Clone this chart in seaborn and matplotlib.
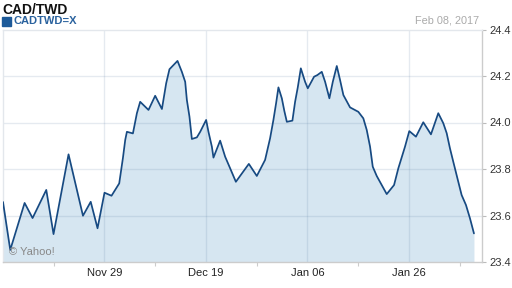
import matplotlib
matplotlib.use("Agg")
import matplotlib.pyplot as plt
import seaborn as sns
import pandas as pd

# trading-day index (0 = Nov 09, 2016) and CAD/TWD rate
day = [0.0, 1.0, 2.98, 4.08, 5.97, 6.97, 9.04, 11.03, 12.10, 13.04, 14.00, 14.97,
       16.03, 16.54, 16.86, 17.09, 17.92, 18.47, 18.92, 20.07, 20.99, 21.92, 22.51,
       22.96, 24.07, 24.67, 25.13, 25.36, 25.72, 26.05, 26.74, 27.20, 28.02, 28.34,
       28.81, 29.03, 29.95, 30.64, 31.33, 32.12, 33.91, 35.01, 36.15, 36.84, 37.30,
       37.67, 37.99, 38.46, 38.81, 39.15, 39.92, 40.29, 40.66, 41.08, 41.67, 42.04,
       42.91, 43.36, 43.97, 44.43, 45.02, 45.49, 46.04, 46.49, 46.95, 47.87, 49.01,
       49.70, 50.17, 50.63, 51.00, 51.55, 52.24, 52.93, 53.94, 54.53, 55.45, 56.04,
       56.96, 57.97, 59.03, 60.04, 60.73, 61.20, 61.65, 62.11, 62.80, 63.26, 63.86,
       64.41, 64.96]
rate = [23.658, 23.452, 23.654, 23.589, 23.710, 23.520, 23.863, 23.599, 23.659, 23.545,
        23.698, 23.685, 23.738, 23.847, 23.925, 23.960, 23.953, 24.040, 24.089, 24.054,
        24.115, 24.058, 24.169, 24.229, 24.265, 24.218, 24.175, 24.097, 24.025, 23.929,
        23.936, 23.960, 24.011, 23.960, 23.896, 23.849, 23.922, 23.853, 23.803, 23.745,
        23.822, 23.770, 23.839, 23.932, 24.011, 24.083, 24.151, 24.104, 24.049, 24.003,
        24.008, 24.089, 24.151, 24.233, 24.175, 24.147, 24.197, 24.204, 24.218, 24.175,
        24.104, 24.175, 24.243, 24.183, 24.118, 24.065, 24.046, 24.018, 23.968, 23.896,
        23.810, 23.770, 23.731, 23.692, 23.731, 23.803, 23.896, 23.963, 23.939, 24.001,
        23.949, 24.040, 23.997, 23.954, 23.889, 23.831, 23.745, 23.688, 23.645, 23.588,
        23.523]

x_major = [14, 28, 42, 56]
x_labels = ["Nov 29", "Dec 19", "Jan 06", "Jan 26"]
x_minor = [7, 21, 35, 49, 63]
y_ticks = [23.4, 23.6, 23.8, 24.0, 24.2, 24.4]

df = pd.DataFrame({"day": day, "rate": rate})

sns.set_style("white")
plt.rcParams["font.family"] = ["Liberation Sans", "DejaVu Sans"]

fig = plt.figure(figsize=(5.12, 2.88), dpi=100)
ax = fig.add_axes([3 / 512, 26 / 288, 479 / 512, 232.5 / 288])

line_c = "#174a82"
ax.fill_between(df["day"], df["rate"], 23.4, color="#d6e6f1", lw=0, zorder=1)
sns.lineplot(data=df, x="day", y="rate", ax=ax, color=line_c, lw=1.25, zorder=3)

ax.set_xlim(0, 66.07)
ax.set_ylim(23.4, 24.4)

ax.yaxis.tick_right()
ax.set_yticks(y_ticks)
ax.set_yticklabels([f"{v:.1f}" for v in y_ticks])
ax.set_xticks(x_major)
ax.set_xticklabels(x_labels)
ax.set_xticks(x_minor, minor=True)
ax.tick_params(axis="y", which="major", length=3, width=0.8, color="#bbbbbb",
               labelsize=8, labelcolor="#333333", pad=2, right=True, left=False)
ax.tick_params(axis="x", which="major", length=0, labelsize=8, labelcolor="#222222", pad=4)
ax.tick_params(axis="x", which="minor", length=3, width=0.8, color="#cccccc", bottom=True)
ax.set_xlabel("")
ax.set_ylabel("")

for v in y_ticks[1:-1]:
    ax.axhline(v, color="#5577a0", alpha=0.15, lw=1, zorder=2)
for v in x_major:
    ax.axvline(v, color="#5577a0", alpha=0.15, lw=1, zorder=2)

for s in ["left", "top"]:
    ax.spines[s].set_color("#e3e7ec")
    ax.spines[s].set_linewidth(1)
for s in ["right", "bottom"]:
    ax.spines[s].set_color("#cccccc")
    ax.spines[s].set_linewidth(1)
for s in ax.spines.values():
    s.set_visible(True)

fig.text(2 / 512, 1 - 3 / 288, "CAD/TWD", fontsize=10, fontweight="bold",
         color="#111111", ha="left", va="top")
fig.patches.append(plt.Rectangle((2 / 512, 1 - 25.5 / 288), 8.5 / 512, 8.5 / 288,
                                 transform=fig.transFigure, color="#1d5a99"))
fig.text(13 / 512, 1 - 21.5 / 288, "CADTWD=X", fontsize=8, fontweight="bold",
         color="#2a629e", ha="left", va="center")
fig.text(479 / 512, 1 - 20.5 / 288, "Feb 08, 2017", fontsize=7.8,
         color="#aaaaaa", ha="right", va="center")
ax.text(0.012, 0.022, "© Yahoo!", transform=ax.transAxes, fontsize=8,
        color="#888888", ha="left", va="bottom", zorder=4)

fig.savefig("out.png", dpi=100)
